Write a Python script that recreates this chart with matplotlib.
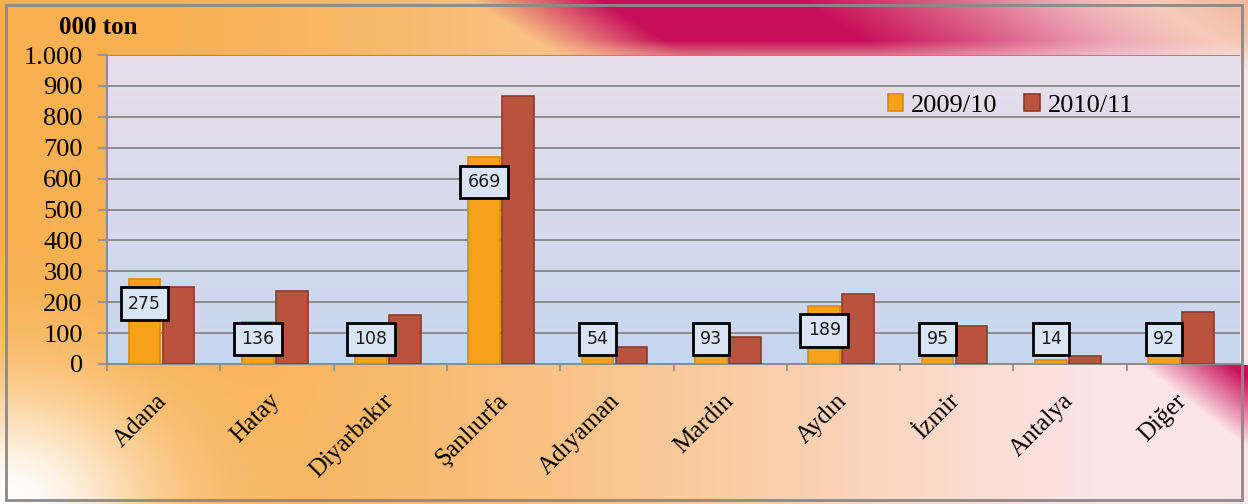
import numpy as np
import matplotlib
matplotlib.use("Agg")
import matplotlib.pyplot as plt
from matplotlib.ticker import FuncFormatter
from matplotlib.transforms import ScaledTranslation

# data (000 ton)
regions = ["Adana", "Hatay", "Diyarbakır", "Şanlıurfa", "Adıyaman",
           "Mardin", "Aydın", "İzmir", "Antalya", "Diğer"]
crop_2009 = [275, 136, 108, 669, 54, 93, 189, 95, 14, 92]
crop_2010 = [250, 235, 160, 868, 55, 87, 228, 122, 25, 167]
series_names = ["2009/10", "2010/11"]

W, H = 1248, 504
fig = plt.figure(figsize=(W / 100, H / 100), dpi=100)

# ---- background: orange -> pink gradient with magenta streaks ----------------
bg = fig.add_axes([0, 0, 1, 1], zorder=0)
yy, xx = np.mgrid[0:H, 0:W].astype(float)
orange = np.array([248, 176, 80]) / 255
light = np.array([252, 228, 232]) / 255
magenta = np.array([200, 16, 90]) / 255
t = np.clip((xx - 150) / 950, 0, 1) ** 1.2
img = orange * (1 - t[..., None]) + light * t[..., None]
# white glow bottom-left
glow = np.exp(-(((xx - 0) / 160) ** 2 + ((yy - H) / 120) ** 2))
img = img * (1 - glow[..., None]) + glow[..., None] * 1.0
# top diagonal magenta band
u = xx - 1.6 * yy
band = np.clip((u - 470) / 130, 0, 1) * np.clip((1150 - u) / 350, 0, 1)
band = band * np.clip((70 - yy) / 30, 0, 1)
img = img * (1 - band[..., None]) + magenta * band[..., None]
# top right: fade toward orange
tr = np.clip((u - 1000) / 250, 0, 1) * np.clip((70 - yy) / 30, 0, 1)
img = img * (1 - 0.55 * tr[..., None]) + np.array([232, 150, 90]) / 255 * 0.55 * tr[..., None]
# bottom right magenta corner
s = xx - 1140 - 1.3 * (yy - 364)
corner = np.clip(s / 90, 0, 1) * (yy > 364)
img = img * (1 - corner[..., None]) + magenta * corner[..., None]
bg.imshow(img, extent=[0, W, H, 0], aspect="auto", interpolation="bilinear")
bg.set_xlim(0, W); bg.set_ylim(H, 0); bg.axis("off")
bg.add_patch(plt.Rectangle((6, 5), W - 12, H - 9, fill=False, ec="#8a8a8a", lw=2))

# ---- main axes ---------------------------------------------------------------
ax = fig.add_axes([107 / W, 1 - 364 / H, (1240 - 107) / W, (364 - 55) / H], zorder=1)
ax.set_facecolor("none")
grad = np.linspace(0, 1, 256)[:, None]
top_c = np.array([232, 222, 234]) / 255
bot_c = np.array([198, 214, 238]) / 255
pa = top_c * (1 - grad[..., None]) + bot_c * grad[..., None]
ax.imshow(pa, extent=[-0.5, len(regions) - 0.5, 0, 1000], aspect="auto", zorder=0)

x = np.arange(len(regions))
wbar = 0.28
ax.bar(x - 0.17, crop_2009, width=wbar, color="#F7A11A", edgecolor="#D88A0E", lw=1.2,
       label=series_names[0], zorder=3)
ax.bar(x + 0.13, crop_2010, width=wbar, color="#B9533E", edgecolor="#8E3A2A", lw=1.2,
       label=series_names[1], zorder=3)

for xi, v in zip(x, crop_2009):
    ax.text(xi - 0.17, max(v - 80, 81), str(v), ha="center", va="center", fontsize=12.5,
            family="DejaVu Sans", color="#1a1a1a", zorder=5,
            bbox=dict(boxstyle="square,pad=0.42", fc="#D9E4F5", ec="black", lw=2))

ax.set_xlim(-0.5, len(regions) - 0.5)
ax.set_ylim(0, 1000)
ax.set_yticks(np.arange(0, 1001, 100))
ax.yaxis.set_major_formatter(FuncFormatter(lambda v, p: f"{int(v):,}".replace(",", ".")))
ax.grid(axis="y", color="#8c8c8c", lw=1.4, zorder=1)
ax.set_axisbelow(True)
for sp in ["top", "right"]:
    ax.spines[sp].set_visible(False)
ax.spines["left"].set_color("#8c8c8c")
ax.spines["bottom"].set_color("#8c8c8c")
ax.spines["left"].set_linewidth(1.4)
ax.spines["bottom"].set_linewidth(1.4)

ax.set_xticks(x - 0.5, minor=True)
ax.set_xticks(x)
ax.set_xticklabels(regions, rotation=45, ha="right", va="center", rotation_mode="anchor",
                   family="Liberation Serif", fontsize=18)
shift = ScaledTranslation(6 / 100, 0, fig.dpi_scale_trans)
for lab in ax.get_xticklabels():
    lab.set_transform(lab.get_transform() + shift)
ax.tick_params(axis="x", which="major", length=0, pad=24)
ax.tick_params(axis="x", which="minor", length=5, color="#8c8c8c", width=1.2)
ax.tick_params(axis="y", length=6.5, color="#8c8c8c", width=1.2, pad=11)
for lab in ax.get_yticklabels():
    lab.set_family("Liberation Serif"); lab.set_fontsize(19)

fig.text(59 / W, 1 - 28 / H, "000 ton", family="Liberation Serif", fontweight="bold",
         fontsize=18, va="center", ha="left")

leg = ax.legend(loc="upper left", bbox_to_anchor=(0.668, 0.95), ncol=2, frameon=False,
                prop={"family": "Liberation Serif", "size": 19}, handlelength=0.6,
                handleheight=0.6, handletextpad=0.3, columnspacing=1.0)

fig.savefig("out.png", dpi=100)
